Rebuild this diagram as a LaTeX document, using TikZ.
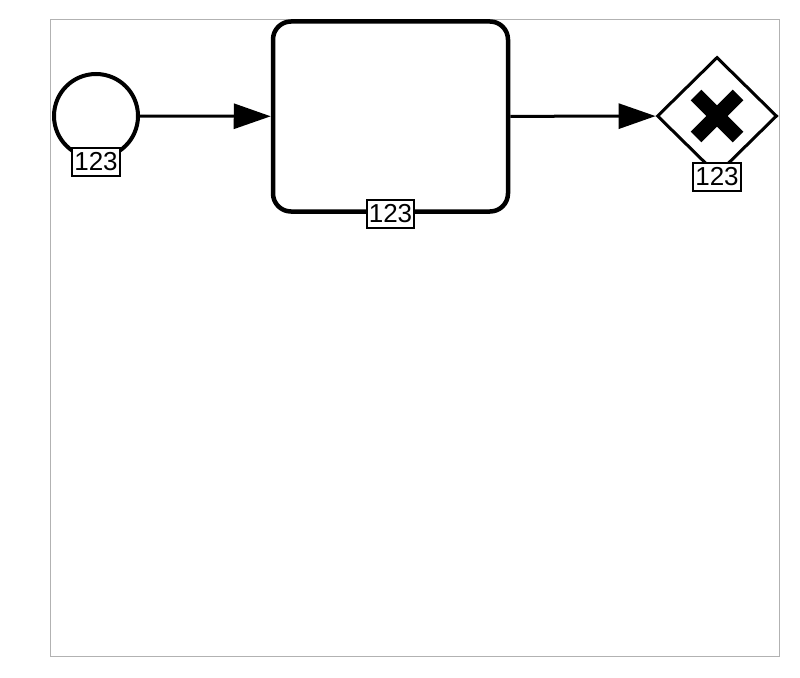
\documentclass[tikz,border=0pt]{standalone}
\usepackage{fontspec}
\setmainfont{Liberation Sans}
\usepackage{tikz}
\usetikzlibrary{shapes.geometric, arrows.meta, positioning, calc}

\begin{document}
\begin{tikzpicture}[
    x=1pt, y=-1pt,
    event/.style={circle, draw, line width=4pt, minimum size=84pt, inner sep=0pt, fill=white},
    task/.style={rectangle, draw, line width=4.5pt, rounded corners=18pt, minimum width=235pt, minimum height=190pt, fill=white},
    gateway/.style={diamond, draw, line width=3pt, minimum width=120pt, minimum height=118pt, inner sep=0pt, fill=white},
    tag/.style={rectangle, draw, line width=2pt, fill=white, inner xsep=2pt, inner ysep=0pt, minimum height=28pt, font=\fontsize{26}{28}\selectfont},
    flow/.style={-{Triangle[length=37pt, width=25pt]}, line width=3pt}
]
\useasboundingbox (0,0) rectangle (800,677);

% Pool frame
\draw[black!30, line width=1pt] (50,20) rectangle (779,656);

% Elements
\node[event] (start) at (96,116) {};
\node[task] (work) at (390.5,116.5) {};
\node[gateway] (xor) at (717,116) {};

% Cross mark of the gateway
\draw[line width=15pt] ($(xor)+(-21,-21)$) -- ($(xor)+(21,21)$);
\draw[line width=15pt] ($(xor)+(-21,21)$) -- ($(xor)+(21,-21)$);

% Sequence flows
\draw[flow] (start) -- (work);
\draw[flow] (work) -- (xor);

% Labels
\node[tag, yshift=-2pt] (start-tag) at (start.south) {123};
\node[tag] (work-tag) at (work.south) {123};
\node[tag] (xor-tag) at (xor.south) {123};

\end{tikzpicture}
\end{document}
